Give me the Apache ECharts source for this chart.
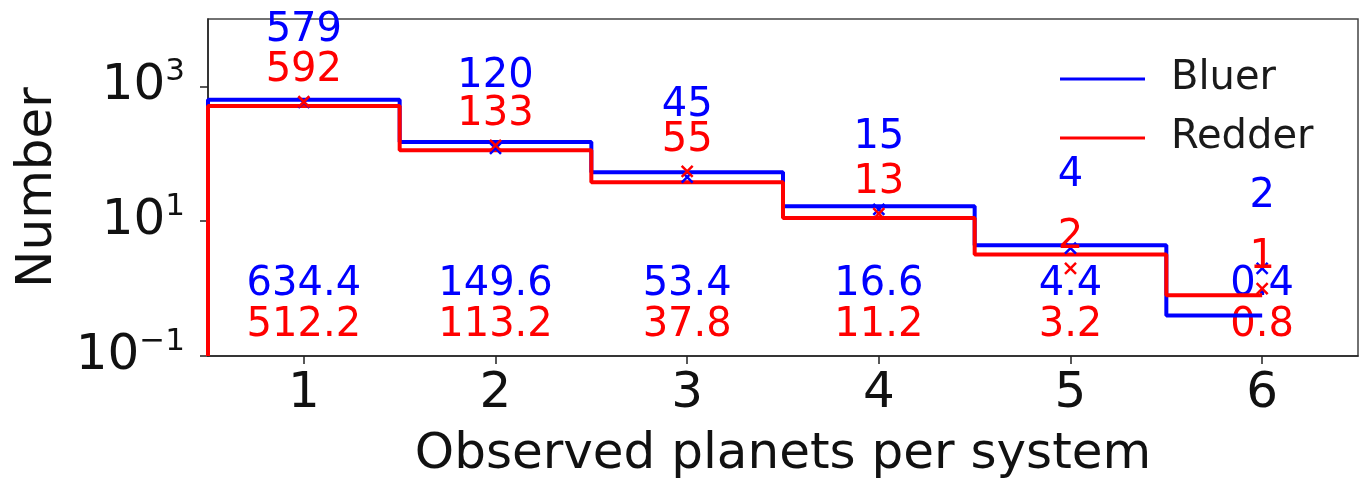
<!DOCTYPE html>
<html>
<head>
<meta charset="utf-8">
<script src="https://cdn.jsdelivr.net/npm/echarts@6/dist/echarts.min.js"></script>
<style>
html,body{margin:0;padding:0;background:#fff;}
#chart{width:1361px;height:479px;}
</style>
</head>
<body>
<div id="chart"></div>
<script>
// ---- data ----
const categories = [1, 2, 3, 4, 5, 6];
const blueModel = [634.4, 149.6, 53.4, 16.6, 4.4, 0.4];
const redModel = [512.2, 113.2, 37.8, 11.2, 3.2, 0.8];
const blueObserved = [579, 120, 45, 15, 4, 2];
const redObserved = [592, 133, 55, 13, 2, 1];
const xTickValues = [1, 2, 3, 4, 5, 6];
const yTickValues = [0.1, 10, 1000];
const seriesNames = ['Bluer', 'Redder'];

// ---- constants ----
const FONT = 'DejaVu Sans';
const BLUE = '#0000ff';
const RED = '#ff0000';
const Y_MIN = 0.1, Y_MAX = 10000;
const X_MIN = 0.5, X_MAX = 6.5;
const MODEL_LABEL_Y_BLUE = 1.14;
const MODEL_LABEL_Y_RED = 0.285;

function stepPoints(values) {
  const pts = [[categories[0] - 0.5, Y_MIN]];
  values.forEach(function (v, i) {
    const left = categories[i] - 0.5;
    const right = (i === values.length - 1) ? categories[i] : categories[i] + 0.5;
    pts.push([left, v]);
    pts.push([right, v]);
  });
  return pts;
}

const X_SYMBOL = 'path://M0,0L10,10M10,0L0,10';

function markerSeries(name, values, color, offsetY, z) {
  return {
    name: name,
    type: 'scatter',
    z: z,
    symbol: X_SYMBOL,
    symbolSize: 11,
    itemStyle: { color: 'rgba(0,0,0,0)', borderColor: color, borderWidth: 2.5, opacity: 1 },
    data: categories.map(function (c, i) { return [c, values[i]]; }),
    label: {
      show: true,
      position: 'inside',
      offset: [0, offsetY],
      formatter: function (p) { return String(p.value[1]); },
      color: color,
      opacity: 1,
      fontFamily: FONT,
      fontSize: 40
    },
    emphasis: { disabled: true },
    silent: true
  };
}

function modelLabelSeries(name, values, color, yPos) {
  return {
    name: name,
    type: 'scatter',
    z: 1,
    symbol: 'circle',
    symbolSize: 1,
    itemStyle: { color: 'rgba(0,0,0,0)', opacity: 1 },
    data: categories.map(function (c, i) { return [c, yPos, values[i]]; }),
    label: {
      show: true,
      position: 'inside',
      formatter: function (p) { return p.value[2].toFixed(1); },
      color: color,
      opacity: 1,
      fontFamily: FONT,
      fontSize: 40
    },
    emphasis: { disabled: true },
    silent: true
  };
}

const chart = echarts.init(document.getElementById('chart'), null, { renderer: 'canvas' });

const option = {
  animation: false,
  backgroundColor: '#ffffff',
  textStyle: { fontFamily: FONT },
  grid: {
    left: 208, right: 3, top: 19, bottom: 123,
    outerBoundsMode: 'none',
    containLabel: false,
    show: true, borderColor: '#444', borderWidth: 1.5, backgroundColor: 'transparent'
  },
  legend: {
    data: seriesNames,
    orient: 'vertical',
    left: 1055,
    top: 54,
    icon: 'rect',
    itemWidth: 85,
    itemHeight: 3,
    itemGap: 19,
    textStyle: { fontFamily: FONT, fontSize: 40, color: '#1a1a1a', lineHeight: 40, padding: [0, 0, 0, 21] },
    selectedMode: false
  },
  xAxis: {
    type: 'value',
    min: X_MIN,
    max: X_MAX,
    name: 'Observed planets per system',
    nameLocation: 'middle',
    nameGap: 74,
    nameTextStyle: { fontFamily: FONT, fontSize: 50, color: '#111' },
    axisLine: { show: true, onZero: false, lineStyle: { color: '#222', width: 1.5 } },
    axisTick: { show: true, length: 8, lineStyle: { color: '#222', width: 1.5 }, customValues: xTickValues },
    axisLabel: { fontFamily: FONT, fontSize: 50, color: '#111', margin: 13, customValues: xTickValues },
    splitLine: { show: false }
  },
  yAxis: {
    type: 'log',
    logBase: 10,
    min: Y_MIN,
    max: Y_MAX,
    name: 'Number',
    nameLocation: 'middle',
    nameRotate: 90,
    nameGap: 145,
    nameTextStyle: { fontFamily: FONT, fontSize: 50, color: '#111' },
    axisLine: { show: true, lineStyle: { color: '#222', width: 1.5 } },
    axisTick: { show: true, length: 8, lineStyle: { color: '#222', width: 1.5 }, customValues: yTickValues },
    axisLabel: {
      margin: 23,
      customValues: yTickValues,
      formatter: function (v) {
        const e = Math.round(Math.log10(v));
        const es = e < 0 ? '\u2212' + Math.abs(e) : String(e);
        return '{b|10}{s|' + es + '}';
      },
      rich: {
        b: { fontFamily: FONT, fontSize: 50, lineHeight: 50, color: '#111' },
        s: { fontFamily: FONT, fontSize: 31, lineHeight: 31, color: '#111', padding: [0, 0, 28, 0] }
      }
    },
    splitLine: { show: false }
  },
  series: [
    modelLabelSeries('Bluer model', blueModel, BLUE, MODEL_LABEL_Y_BLUE),
    modelLabelSeries('Redder model', redModel, RED, MODEL_LABEL_Y_RED),
    {
      name: seriesNames[0],
      type: 'line',
      z: 2,
      data: stepPoints(blueModel),
      showSymbol: false,
      symbol: 'none',
      lineStyle: { color: BLUE, width: 4 },
      itemStyle: { color: BLUE },
      silent: true
    },
    {
      name: seriesNames[1],
      type: 'line',
      z: 3,
      data: stepPoints(redModel),
      showSymbol: false,
      symbol: 'none',
      lineStyle: { color: RED, width: 4 },
      itemStyle: { color: RED },
      silent: true
    },
    markerSeries('Bluer observed', blueObserved, BLUE, -72, 4),
    markerSeries('Redder observed', redObserved, RED, -31, 5)
  ]
};

chart.setOption(option);
</script>
</body>
</html>
